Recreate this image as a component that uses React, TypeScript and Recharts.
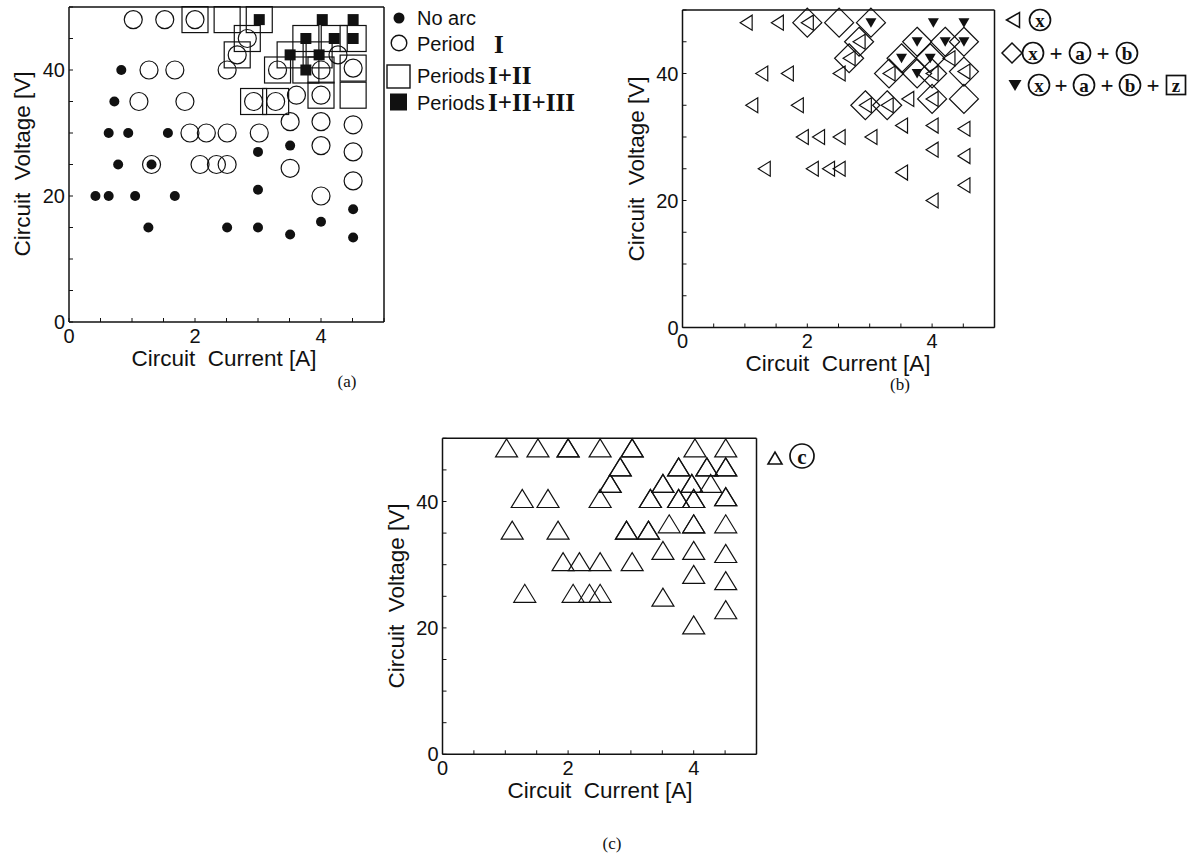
import React from "react";
import { ScatterChart, Scatter, XAxis, YAxis } from "recharts";

// points: [current A, voltage V]
const noArc = [
  [0.83, 40], [0.72, 35], [0.63, 30], [0.94, 30], [1.57, 30], [0.78, 25], [1.31, 25],
  [0.42, 20], [0.63, 20], [1.05, 20], [1.68, 20], [1.26, 15], [2.51, 15], [3.0, 15],
  [3.0, 21], [3.0, 27], [3.51, 28], [3.51, 13.9], [4.0, 15.9], [4.51, 17.9], [4.51, 13.4],
];

const periodI = [
  [1.02, 48], [1.52, 48], [2.0, 48], [2.83, 45], [2.67, 42.4], [2.51, 40], [1.27, 40],
  [1.68, 40], [1.11, 35], [1.84, 35], [2.93, 35], [3.28, 35], [3.61, 36], [4.0, 36],
  [3.31, 40], [4.0, 40], [4.27, 42.4], [4.51, 40.3], [1.92, 30], [2.18, 30], [2.51, 30],
  [3.02, 30], [3.51, 31.8], [4.0, 31.8], [4.51, 31.3], [4.0, 28], [4.51, 27], [4.51, 22.4],
  [4.0, 20], [3.51, 24.4], [2.08, 25], [2.34, 25], [2.51, 25], [1.31, 25],
];

const periodII = [
  [2.0, 48], [2.51, 48], [3.02, 48], [2.83, 45], [2.67, 42.4], [3.76, 45], [4.21, 45],
  [4.51, 45], [3.51, 42.4], [3.97, 42.4], [3.31, 40], [3.76, 40], [4.0, 40], [4.51, 40.3],
  [2.93, 35], [3.28, 35], [4.0, 36], [4.51, 36],
];

const periodIII = [
  [3.02, 48], [4.02, 48], [4.51, 48], [3.76, 45], [4.21, 45], [4.51, 45], [3.51, 42.4],
  [3.97, 42.4], [3.76, 40],
];

const xTicks = [0, 0.5, 1, 1.5, 2, 2.5, 3, 3.5, 4, 4.5, 5];
const yTicks = [0, 5, 10, 15, 20, 25, 30, 35, 40, 45, 50];
const xTickLabels = [0, 2, 4];
const yTickLabels = [0, 20, 40];

const pts = (arr: number[][]) => arr.map(([x, y]) => ({ x, y }));

const INK = "#111";
const SANS = "'Liberation Sans', Arial, sans-serif";
const SERIF = "'Liberation Serif', 'Times New Roman', serif";
const SW = 1.2;

type P = { cx?: number; cy?: number };

const Dot = ({ cx = 0, cy = 0 }: P) => <circle cx={cx} cy={cy} r={5} fill={INK} />;
const Ring = ({ cx = 0, cy = 0 }: P) => (
  <circle cx={cx} cy={cy} r={9} fill="none" stroke={INK} strokeWidth={SW} />
);
const OpenSquare = ({ cx = 0, cy = 0 }: P) => (
  <rect x={cx - 13} y={cy - 13} width={26} height={26} fill="none" stroke={INK} strokeWidth={SW} />
);
const FilledSquare = ({ cx = 0, cy = 0 }: P) => (
  <rect x={cx - 5.5} y={cy - 5.5} width={11} height={11} fill={INK} />
);
const LeftTri = ({ cx = 0, cy = 0 }: P) => (
  <polygon
    points={`${cx - 6},${cy} ${cx + 6},${cy - 7.5} ${cx + 6},${cy + 7.5}`}
    fill="none"
    stroke={INK}
    strokeWidth={SW}
  />
);
const Diamond = ({ cx = 0, cy = 0 }: P) => (
  <polygon
    points={`${cx},${cy - 14.5} ${cx + 14.5},${cy} ${cx},${cy + 14.5} ${cx - 14.5},${cy}`}
    fill="none"
    stroke={INK}
    strokeWidth={SW}
  />
);
const DownTri = ({ cx = 0, cy = 0 }: P) => (
  <polygon points={`${cx - 5.5},${cy - 4.5} ${cx + 5.5},${cy - 4.5} ${cx},${cy + 5}`} fill={INK} />
);
const UpTri = ({ cx = 0, cy = 0 }: P) => (
  <polygon
    points={`${cx - 11},${cy + 6} ${cx + 11},${cy + 6} ${cx},${cy - 12}`}
    fill="none"
    stroke={INK}
    strokeWidth={SW}
  />
);

const tickText = { fontFamily: SANS, fontSize: 20, fill: INK } as const;

function BottomTick(p: any) {
  const v = p.payload.value;
  return (
    <g>
      <line x1={p.x} x2={p.x} y1={p.y} y2={p.y - 4} stroke={INK} strokeWidth={1} />
      {xTickLabels.includes(v) && (
        <text x={p.x} y={p.y + 13.5} textAnchor="middle" dominantBaseline="central" {...tickText}>
          {v}
        </text>
      )}
    </g>
  );
}
function TopTick(p: any) {
  return <line x1={p.x} x2={p.x} y1={p.y} y2={p.y + 4} stroke={INK} strokeWidth={1} />;
}
function LeftTick(p: any) {
  const v = p.payload.value;
  return (
    <g>
      <line x1={p.x} x2={p.x + 4} y1={p.y} y2={p.y} stroke={INK} strokeWidth={1} />
      {yTickLabels.includes(v) && (
        <text x={p.x - 4} y={p.y} textAnchor="end" dominantBaseline="central" {...tickText}>
          {v}
        </text>
      )}
    </g>
  );
}
function RightTick(p: any) {
  return <line x1={p.x} x2={p.x - 4} y1={p.y} y2={p.y} stroke={INK} strokeWidth={1} />;
}

const axisLine = { stroke: INK, strokeWidth: 1.5 };

// plot box given in pixels relative to the chart's own top-left corner;
// every axis takes 1px of room, so the margins are trimmed by that pixel
function Panel({
  width,
  height,
  box,
  children,
}: {
  width: number;
  height: number;
  box: { left: number; top: number; right: number; bottom: number };
  children: React.ReactNode;
}) {
  const margin = {
    top: box.top - 1,
    left: box.left - 1,
    right: width - box.right - 1,
    bottom: height - box.bottom - 1,
  };
  return (
    <ScatterChart width={width} height={height} margin={margin}>
      <XAxis
        type="number"
        dataKey="x"
        domain={[0, 5]}
        ticks={xTicks}
        interval={0}
        height={1}
        tickSize={0}
        tickMargin={0}
        tickLine={false}
        axisLine={axisLine}
        tick={(p: any) => <BottomTick {...p} />}
      />
      <XAxis
        xAxisId="top"
        orientation="top"
        type="number"
        domain={[0, 5]}
        ticks={xTicks}
        interval={0}
        height={1}
        tickSize={0}
        tickMargin={0}
        tickLine={false}
        axisLine={axisLine}
        tick={(p: any) => <TopTick {...p} />}
      />
      <YAxis
        type="number"
        dataKey="y"
        domain={[0, 50]}
        ticks={yTicks}
        interval={0}
        width={1}
        tickSize={0}
        tickMargin={0}
        tickLine={false}
        axisLine={axisLine}
        tick={(p: any) => <LeftTick {...p} />}
      />
      <YAxis
        yAxisId="right"
        orientation="right"
        type="number"
        domain={[0, 50]}
        ticks={yTicks}
        interval={0}
        width={1}
        tickSize={0}
        tickMargin={0}
        tickLine={false}
        axisLine={axisLine}
        tick={(p: any) => <RightTick {...p} />}
      />
      {children}
    </ScatterChart>
  );
}

function Circled({ x, y, ch, r = 10.5, fs = 19 }: { x: number; y: number; ch: string; r?: number; fs?: number }) {
  return (
    <g>
      <circle cx={x} cy={y} r={r} fill="none" stroke={INK} strokeWidth={1.7} />
      <text
        x={x}
        y={y + 0.5}
        textAnchor="middle"
        dominantBaseline="central"
        fontFamily={SERIF}
        fontWeight="bold"
        fontSize={fs}
        fill={INK}
      >
        {ch}
      </text>
    </g>
  );
}
function Plus({ x, y }: { x: number; y: number }) {
  return (
    <text x={x} y={y} textAnchor="middle" dominantBaseline="central" fontFamily={SERIF} fontWeight="bold" fontSize={23} fill={INK}>
      +
    </text>
  );
}

function Overlay() {
  const lbl = { fontFamily: SANS, fontSize: 22.5, fill: INK, style: { whiteSpace: "pre" as const } };
  const leg = { fontFamily: SANS, fontSize: 20, fill: INK } as const;
  const roman = { fontFamily: SERIF, fontWeight: "bold", fontSize: 25, fill: INK } as const;
  const cap = { fontFamily: SERIF, fontSize: 17, fill: INK } as const;
  return (
    <svg width={1193} height={855} style={{ position: "absolute", left: 0, top: 0, pointerEvents: "none" }}>
      {/* axis titles */}
      <text x={224} y={358} textAnchor="middle" dominantBaseline="central" {...lbl}>Circuit  Current [A]</text>
      <text x={838} y={363} textAnchor="middle" dominantBaseline="central" {...lbl}>Circuit  Current [A]</text>
      <text x={600} y={790} textAnchor="middle" dominantBaseline="central" {...lbl}>Circuit  Current [A]</text>
      <text x={0} y={0} transform="translate(22,164) rotate(-90)" textAnchor="middle" dominantBaseline="central" {...lbl}>Circuit  Voltage [V]</text>
      <text x={0} y={0} transform="translate(636,169) rotate(-90)" textAnchor="middle" dominantBaseline="central" {...lbl}>Circuit  Voltage [V]</text>
      <text x={0} y={0} transform="translate(396,596) rotate(-90)" textAnchor="middle" dominantBaseline="central" {...lbl}>Circuit  Voltage [V]</text>

      {/* legend (a) */}
      <circle cx={399} cy={18} r={5.5} fill={INK} />
      <text x={417} y={18} dominantBaseline="central" {...leg}>No arc</text>
      <circle cx={399} cy={43} r={7.8} fill="none" stroke={INK} strokeWidth={1.4} />
      <text x={417} y={44} dominantBaseline="central" {...leg}>Period</text>
      <text x={494} y={44} dominantBaseline="central" {...roman}>I</text>
      <rect x={387} y={65} width={23} height={23} fill="none" stroke={INK} strokeWidth={1.4} />
      <text x={417} y={75.5} dominantBaseline="central" {...leg}>Periods</text>
      <text x={488} y={75.5} dominantBaseline="central" {...roman}>I+II</text>
      <rect x={390} y={93.5} width={17} height={17} fill={INK} />
      <text x={417} y={102.5} dominantBaseline="central" {...leg}>Periods</text>
      <text x={488} y={102.5} dominantBaseline="central" {...roman}>I+II+III</text>

      {/* legend (b) */}
      <polygon points="1006.5,20 1019.5,12.5 1019.5,27.5" fill="none" stroke={INK} strokeWidth={1.5} />
      <Circled x={1040} y={20} ch="x" />
      <polygon points="1012,43 1022,53 1012,63 1002,53" fill="none" stroke={INK} strokeWidth={1.5} />
      <Circled x={1033} y={53} ch="x" />
      <Plus x={1056} y={53} />
      <Circled x={1080} y={53} ch="a" />
      <Plus x={1103} y={53} />
      <Circled x={1127} y={53} ch="b" />
      <polygon points="1008.5,80 1021.5,80 1015,91" fill={INK} />
      <Circled x={1039} y={85} ch="x" />
      <Plus x={1061} y={85} />
      <Circled x={1084} y={85} ch="a" />
      <Plus x={1107} y={85} />
      <Circled x={1130} y={85} ch="b" />
      <Plus x={1153} y={85} />
      <rect x={1166.5} y={75.5} width={19} height={19} fill="none" stroke={INK} strokeWidth={1.7} />
      <text x={1176} y={85} textAnchor="middle" dominantBaseline="central" fontFamily={SERIF} fontWeight="bold" fontSize={19} fill={INK}>z</text>

      {/* legend (c) */}
      <polygon points="768,464 782,464 775,452" fill="none" stroke={INK} strokeWidth={1.6} />
      <Circled x={802} y={456} ch="c" r={12} fs={21} />

      {/* captions */}
      <text x={347} y={381} textAnchor="middle" dominantBaseline="central" {...cap}>(a)</text>
      <text x={900} y={384} textAnchor="middle" dominantBaseline="central" {...cap}>(b)</text>
      <text x={612} y={843} textAnchor="middle" dominantBaseline="central" {...cap}>(c)</text>
    </svg>
  );
}

export default function App() {
  return (
    <div style={{ position: "absolute", left: 0, top: 0, width: 1193, height: 855, background: "#fff" }}>
      <div style={{ position: "absolute", left: 0, top: 0 }}>
        <Panel width={400} height={380} box={{ left: 69, top: 7, right: 384, bottom: 322 }}>
          <Scatter data={pts(periodII)} isAnimationActive={false} shape={(p: any) => <OpenSquare {...p} />} />
          <Scatter data={pts(periodI)} isAnimationActive={false} shape={(p: any) => <Ring {...p} />} />
          <Scatter data={pts(periodIII)} isAnimationActive={false} shape={(p: any) => <FilledSquare {...p} />} />
          <Scatter data={pts(noArc)} isAnimationActive={false} shape={(p: any) => <Dot {...p} />} />
        </Panel>
      </div>
      <div style={{ position: "absolute", left: 600, top: 0 }}>
        <Panel width={410} height={380} box={{ left: 82.5, top: 10, right: 394.5, bottom: 327.5 }}>
          <Scatter data={pts(periodII)} isAnimationActive={false} shape={(p: any) => <Diamond {...p} />} />
          <Scatter data={pts(periodI)} isAnimationActive={false} shape={(p: any) => <LeftTri {...p} />} />
          <Scatter data={pts(periodIII)} isAnimationActive={false} shape={(p: any) => <DownTri {...p} />} />
        </Panel>
      </div>
      <div style={{ position: "absolute", left: 370, top: 420 }}>
        <Panel width={400} height={400} box={{ left: 72.5, top: 18.3, right: 386.5, bottom: 334.3 }}>
          <Scatter data={pts(periodI)} isAnimationActive={false} shape={(p: any) => <UpTri {...p} />} />
          <Scatter data={pts(periodII)} isAnimationActive={false} shape={(p: any) => <UpTri {...p} />} />
          <Scatter data={pts(periodIII)} isAnimationActive={false} shape={(p: any) => <UpTri {...p} />} />
        </Panel>
      </div>
      <Overlay />
    </div>
  );
}
